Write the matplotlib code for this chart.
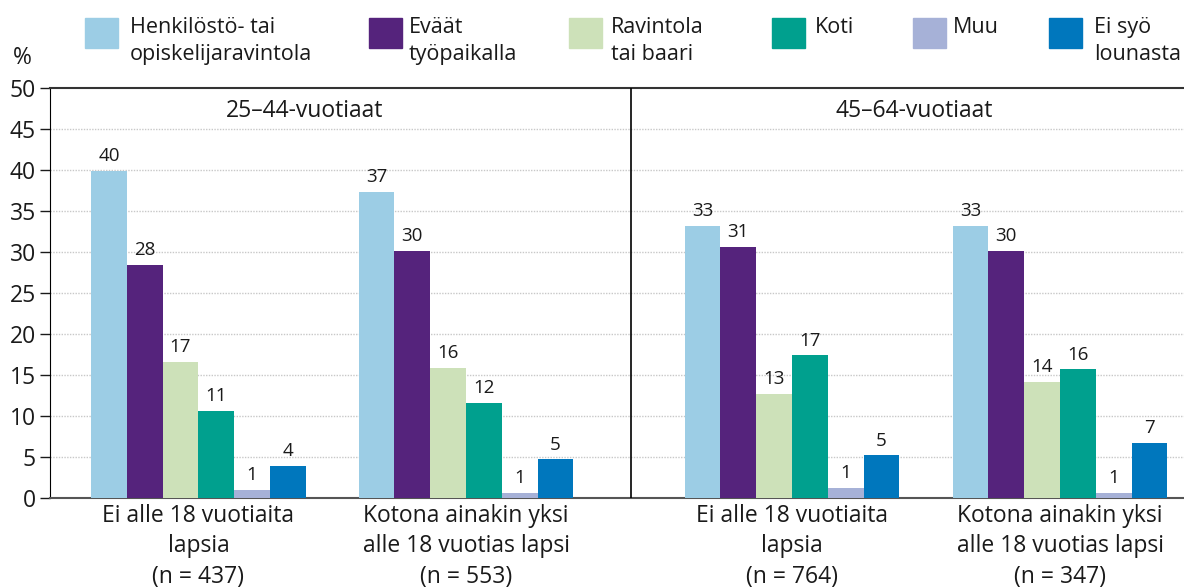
import numpy as np
import matplotlib.pyplot as plt
from matplotlib.patches import Rectangle

plt.rcParams['font.family'] = ['Open Sans', 'DejaVu Sans']

series = ["Henkilöstö- tai\nopiskelijaravintola", "Eväät\ntyöpaikalla", "Ravintola\ntai baari",
          "Koti", "Muu", "Ei syö\nlounasta"]
colors = ["#9ccde5", "#55237c", "#cde1b9", "#00a08e", "#a6b1d7", "#0077bd"]

groups = ["Ei alle 18 vuotiaita\nlapsia\n(n = 437)",
          "Kotona ainakin yksi\nalle 18 vuotias lapsi\n(n = 553)",
          "Ei alle 18 vuotiaita\nlapsia\n(n = 764)",
          "Kotona ainakin yksi\nalle 18 vuotias lapsi\n(n = 347)"]
panels = ["25–44-vuotiaat", "45–64-vuotiaat"]

# one row per group, one column per series
values = np.array([
    [39.9, 28.4, 16.6, 10.6, 0.95, 3.9],
    [37.3, 30.1, 15.9, 11.6, 0.6, 4.7],
    [33.2, 30.6, 12.7, 17.4, 1.2, 5.2],
    [33.2, 30.1, 14.2, 15.7, 0.6, 6.7],
])

W, H = 1184, 588
FS = 16.5
fig = plt.figure(figsize=(W / 100, H / 100), dpi=100)

# axes in pixel-like units; right part runs past the figure edge like the original
x0, x1 = 50, 1214
ax = fig.add_axes([x0 / W, 1 - 498 / H, (x1 - x0) / W, 410 / H])
ax.set_xlim(x0, x1)
ax.set_ylim(0, 50)

centers = [198.4, 466, 792, 1060]
bw = 35.8
for g, c in enumerate(centers):
    for s in range(len(series)):
        xs = c + (s - 2.5) * bw
        v = values[g, s]
        ax.bar(xs, v, width=bw, color=colors[s], zorder=3, linewidth=0)
        ax.text(xs, v + 0.7, f"{v:.0f}", ha='center', va='bottom', fontsize=13.5, color='#1a1a1a', zorder=4)

ax.axvline(631, color='black', lw=1.2, zorder=4)
ax.text(305, 47.2, panels[0], ha='center', va='center', fontsize=FS, color='#1a1a1a')
ax.text(914, 47.2, panels[1], ha='center', va='center', fontsize=FS, color='#1a1a1a')

ax.set_yticks(np.arange(0, 51, 5))
ax.tick_params(axis='y', length=7, width=1, labelsize=FS, pad=3, colors='#1a1a1a')
ax.set_xticks(centers)
ax.set_xticklabels(groups, fontsize=FS, color='#1a1a1a', linespacing=1.38)
ax.tick_params(axis='x', length=0, pad=4)
ax.grid(axis='y', linestyle=(0, (1, 1)), color='#c8c8c8', lw=1, zorder=0)
for t in ax.yaxis.get_gridlines()[:1] + ax.yaxis.get_gridlines()[-1:]:
    t.set_visible(False)

ax.spines['left'].set_color('black')
ax.spines['top'].set_color('#333333')
ax.spines['top'].set_linewidth(1.5)
ax.spines['bottom'].set_color('#555555')
ax.spines['bottom'].set_linewidth(1.5)
ax.spines['right'].set_visible(False)

fig.text(22 / W, 1 - 58 / H, "%", ha='center', va='center', fontsize=FS, color='#1a1a1a')

# legend drawn by hand
sq_x = [85, 369, 569, 772, 913, 1049]
tx_x = [130, 409, 611, 815, 953, 1094]
for s in range(len(series)):
    fig.patches.append(Rectangle((sq_x[s] / W, 1 - 48 / H), 33 / W, 30 / H,
                                 transform=fig.transFigure, color=colors[s]))
    fig.text(tx_x[s] / W, 1 - 17 / H, series[s], ha='left', va='top', fontsize=15.5,
             color='#1a1a1a', linespacing=1.38)

fig.savefig("out.png", dpi=100)
